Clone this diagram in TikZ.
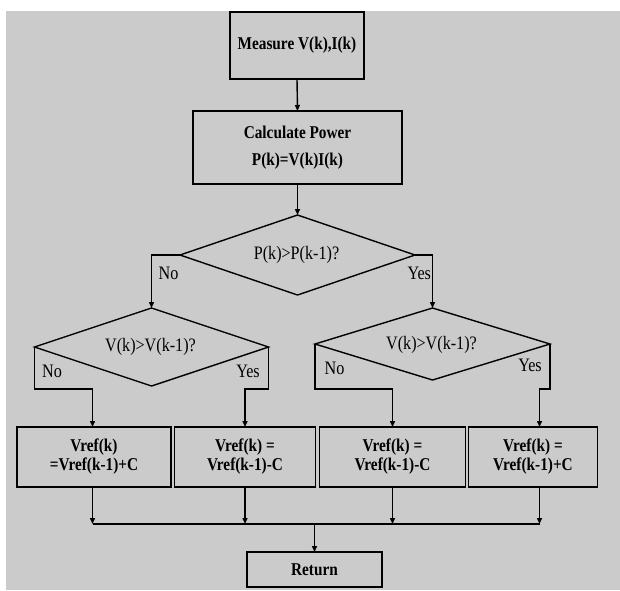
\documentclass[tikz,border=0pt]{standalone}
\usepackage{fontspec}
\setmainfont{Liberation Serif}
\newfontfamily\condfont[FakeStretch=0.85]{Liberation Serif}
\usetikzlibrary{shapes.geometric,arrows.meta,calc}
\definecolor{bggray}{RGB}{203,203,203}
\begin{document}
\begin{tikzpicture}[x=1pt,y=-1pt,
  every node/.style={inner sep=0pt, outer sep=0pt},
  procbox/.style={draw, line width=1.4pt, fill=bggray, align=center,
    font=\condfont\fontsize{18}{19}\selectfont\bfseries},
  decis/.style={draw, line width=1.4pt, diamond, aspect=2.5, fill=bggray},
  lbl/.style={font=\condfont\fontsize{19}{20}\selectfont},
  conn/.style={line width=1.4pt},
  arr/.style={conn, -{Triangle[length=6pt,width=5pt]}}]
\useasboundingbox (0,0) rectangle (620,590);
\fill[white] (0,0) rectangle (620,590);
\fill[bggray] (6,11) rectangle (620,590);

\node[procbox, minimum width=134pt, minimum height=67pt] (meas) at (297,45.5) {Measure V(k),I(k)};
\node[procbox, minimum width=209pt, minimum height=73pt] (calc) at (297.5,147.5) {Calculate Power\\[8pt]P(k)=V(k)I(k)};
\node[decis, minimum width=235pt, minimum height=80pt] (d1) at (297.5,255) {};
\node[lbl] at (296.5,255) {P(k)>P(k-1)?};
\node[decis, minimum width=234pt, minimum height=78pt] (d2l) at (151.5,347) {};
\node[lbl] at (150.5,347) {V(k)>V(k-1)?};
\node[decis, minimum width=235pt, minimum height=72pt] (d2r) at (432.5,344) {};
\node[lbl] at (431.5,345) {V(k)>V(k-1)?};

\node[procbox, minimum width=154pt, minimum height=60pt] (b1) at (94,457) {Vref(k)\\=Vref(k-1)+C};
\node[procbox, minimum width=140.5pt, minimum height=60pt] (b2) at (245,457) {Vref(k) =\\Vref(k-1)-C};
\node[procbox, minimum width=146pt, minimum height=60pt] (b3) at (392.5,457) {Vref(k) =\\Vref(k-1)-C};
\node[procbox, minimum width=129pt, minimum height=60pt] (b4) at (533,457) {Vref(k) =\\Vref(k-1)+C};
\node[procbox, minimum width=135pt, minimum height=35pt] (ret) at (314.5,569.5) {Return};

% levels and branch positions
\coordinate (lev) at (0,389);
\coordinate (join) at (0,524);
\coordinate (x1) at (92.5,0);
\coordinate (x2) at (245,0);
\coordinate (x3) at (392.5,0);
\coordinate (x4) at (539.5,0);
\coordinate (xr) at (314.5,0);

\draw[arr] (meas.south) -- (calc.north);
\draw[arr] (calc.south) -- (d1.north);
\draw[arr] (d1.west) -| (d2l.north);
\draw[arr] (d1.east) -| (d2r.north);

\draw[arr] (d2l.west) -- (d2l.west |- lev) -| (x1 |- b1.north);
\draw[arr] (d2l.east) -- (d2l.east |- lev) -| (x2 |- b2.north);
\draw[arr] (d2r.west) -- (d2r.west |- lev) -| (x3 |- b3.north);
\draw[arr] (d2r.east) -- (d2r.east |- lev) -| (x4 |- b4.north);

\draw[arr] (x1 |- b1.south) -- (x1 |- join);
\draw[arr] (x2 |- b2.south) -- (x2 |- join);
\draw[arr] (x3 |- b3.south) -- (x3 |- join);
\draw[arr] (x4 |- b4.south) -- (x4 |- join);
\draw[conn] (x1 |- join) -- (x4 |- join);
\draw[arr] (xr |- join) -- (ret.north);

\node[lbl] at (168.5,273) {No};
\node[lbl, anchor=east] at (431,273) {Yes};
\node[lbl] at (52,371) {No};
\node[lbl] at (248,371) {Yes};
\node[lbl] at (334.5,368) {No};
\node[lbl] at (530,365) {Yes};
\end{tikzpicture}
\end{document}
